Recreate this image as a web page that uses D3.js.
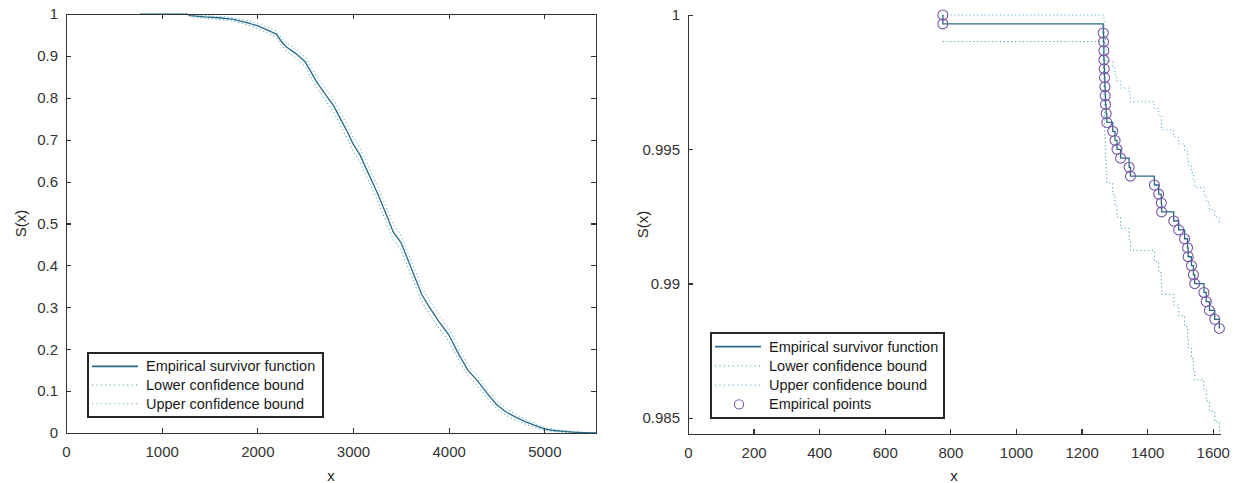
<!DOCTYPE html>
<html>
<head>
<meta charset="utf-8">
<script src="https://cdn.jsdelivr.net/npm/d3@7"></script>
<style>
  body { margin: 0; background: #fff; }
  svg { display: block; font-family: "Liberation Sans", Arial, sans-serif; }
  .axis-label { fill: #262626; font-size: 15px; }
  .legend-label { fill: #1a1a1a; font-size: 14.5px; }
</style>
</head>
<body>
<div id="chart"></div>
<script>
// full survivor curve (left panel)
const fullX = [777, 1266, 1300, 1450, 1600, 1750, 1900, 2000, 2100, 2200, 2250, 2300, 2400, 2500, 2550, 2620, 2700, 2800, 2880, 2950, 3000, 3070, 3150, 3250, 3350, 3420, 3500, 3580, 3650, 3720, 3800, 3900, 4000, 4100, 4200, 4300, 4400, 4500, 4600, 4700, 4800, 4900, 5000, 5100, 5200, 5300, 5400, 5540];
const fullS = [0.99967, 0.9997, 0.996, 0.993, 0.991, 0.987, 0.979, 0.972, 0.962, 0.952, 0.935, 0.922, 0.906, 0.886, 0.866, 0.838, 0.812, 0.78, 0.745, 0.715, 0.69, 0.665, 0.625, 0.575, 0.52, 0.48, 0.455, 0.41, 0.37, 0.33, 0.3, 0.265, 0.235, 0.19, 0.15, 0.125, 0.095, 0.068, 0.05, 0.038, 0.027, 0.018, 0.01, 0.006, 0.004, 0.002, 0.001, 0];
const fullLower = [0.99901, 0.9991, 0.9937, 0.99, 0.9876, 0.9829, 0.9739, 0.9661, 0.9552, 0.9443, 0.9262, 0.9124, 0.8956, 0.8746, 0.8538, 0.8248, 0.798, 0.7652, 0.7294, 0.6988, 0.6734, 0.6481, 0.6077, 0.5573, 0.5021, 0.4621, 0.4372, 0.3924, 0.3527, 0.3132, 0.2836, 0.2492, 0.2198, 0.176, 0.1372, 0.1132, 0.0845, 0.059, 0.0422, 0.0312, 0.0212, 0.0132, 0.0064, 0.0032, 0.0017, 0.0004, 0, 0];
const fullUpper = [1, 1, 0.9983, 0.996, 0.9944, 0.9911, 0.9841, 0.9779, 0.9688, 0.9597, 0.9438, 0.9316, 0.9164, 0.8974, 0.8782, 0.8512, 0.826, 0.7948, 0.7606, 0.7312, 0.7066, 0.6819, 0.6423, 0.5927, 0.5379, 0.4979, 0.4728, 0.4276, 0.3873, 0.3468, 0.3164, 0.2808, 0.2502, 0.204, 0.1628, 0.1368, 0.1055, 0.077, 0.0578, 0.0448, 0.0328, 0.0228, 0.0136, 0.0088, 0.0063, 0.0036, 0.0021, 0];

// first 35 events (right panel), first entry is the starting point at S = 1
const zoomX = [777, 777, 1266, 1267, 1268, 1268, 1269, 1270, 1271, 1272, 1273, 1275, 1277, 1295, 1302, 1308, 1319, 1345, 1349, 1422, 1435, 1443, 1444, 1481, 1496, 1514, 1523, 1525, 1535, 1541, 1545, 1573, 1580, 1590, 1606, 1620];
const zoomS = [1, 0.99967, 0.99933, 0.999, 0.99867, 0.99833, 0.998, 0.99767, 0.99733, 0.997, 0.99667, 0.99633, 0.996, 0.99567, 0.99533, 0.995, 0.99467, 0.99433, 0.994, 0.99367, 0.99333, 0.993, 0.99267, 0.99233, 0.992, 0.99167, 0.99133, 0.991, 0.99067, 0.99033, 0.99, 0.98967, 0.98933, 0.989, 0.98867, 0.98833];
const zoomLower = [null, 0.99901, 0.99841, 0.99787, 0.99736, 0.99687, 0.9964, 0.99594, 0.99548, 0.99504, 0.9946, 0.99416, 0.99374, 0.99332, 0.99289, 0.99247, 0.99206, 0.99164, 0.99123, 0.99082, 0.99041, 0.99001, 0.9896, 0.9892, 0.9888, 0.9884, 0.988, 0.9876, 0.98721, 0.98681, 0.98642, 0.98603, 0.98563, 0.98525, 0.98486, 0.98447];
const zoomUpper = [null, 1, 1, 1, 0.99997, 0.99979, 0.9996, 0.9994, 0.99918, 0.99896, 0.99874, 0.9985, 0.99826, 0.99803, 0.99778, 0.99753, 0.99728, 0.99703, 0.99677, 0.99652, 0.99625, 0.99599, 0.99573, 0.99546, 0.9952, 0.99494, 0.99466, 0.9944, 0.99413, 0.99385, 0.99358, 0.99331, 0.99303, 0.99275, 0.99248, 0.9922];

const fullXTicks = [0, 1000, 2000, 3000, 4000, 5000];
const fullYTicks = [0, 0.1, 0.2, 0.3, 0.4, 0.5, 0.6, 0.7, 0.8, 0.9, 1];
const zoomXTicks = [0, 200, 400, 600, 800, 1000, 1200, 1400, 1600];
const zoomYTicks = [0.985, 0.99, 0.995, 1];

const legendLabels = ["Empirical survivor function", "Lower confidence bound", "Upper confidence bound", "Empirical points"];

const colors = {
    axis: "#333333",
    main: "#286a88",
    lower: "#3e9fb2",
    upper: "#58afd2",
    points: "#7756a6",
};

class SurvivorPlot {
    constructor(_config, _data) {
        this.config = {
            svg: _config.svg,
            left: _config.left,
            right: _config.right,
            top: _config.top,
            bottom: _config.bottom,
            xDomain: _config.xDomain,
            yDomain: _config.yDomain,
            xTicks: _config.xTicks,
            yTicks: _config.yTicks,
            box: _config.box || false,
            stairs: _config.stairs || false,
            showPoints: _config.showPoints || false,
            legend: _config.legend,
        };
        this.data = _data;
        this.initVis();
    }

    initVis() {
        let vis = this;
        const c = vis.config;

        vis.x = d3.scaleLinear().domain(c.xDomain).range([c.left, c.right]);
        vis.y = d3.scaleLinear().domain(c.yDomain).range([c.bottom, c.top]);

        vis.g = c.svg.append("g");

        const fmt = d3.format("~g");
        const styleAxis = (sel) => {
            sel.attr("font-family", null).attr("font-size", null);
            sel.selectAll("path, line").attr("stroke", colors.axis).attr("stroke-width", 1.2)
                .attr("shape-rendering", "crispEdges");
            sel.selectAll("text").attr("fill", "#333").style("font-size", "15px");
        };

        // data first, axes on top
        vis.plot = vis.g.append("g");
        vis.renderVis();

        vis.g.append("g")
            .attr("transform", `translate(0,${c.bottom})`)
            .call(d3.axisBottom(vis.x).tickValues(c.xTicks).tickFormat(fmt)
                .tickSizeInner(-5).tickSizeOuter(0).tickPadding(13))
            .call(styleAxis);

        vis.g.append("g")
            .attr("transform", `translate(${c.left},0)`)
            .call(d3.axisLeft(vis.y).tickValues(c.yTicks).tickFormat(fmt)
                .tickSizeInner(-5).tickSizeOuter(0).tickPadding(8))
            .call(styleAxis);

        if (c.box) {
            vis.g.append("g")
                .attr("transform", `translate(0,${c.top})`)
                .call(d3.axisTop(vis.x).tickValues(c.xTicks).tickFormat("")
                    .tickSizeInner(-5).tickSizeOuter(0))
                .call(styleAxis);
            vis.g.append("g")
                .attr("transform", `translate(${c.right},0)`)
                .call(d3.axisRight(vis.y).tickValues(c.yTicks).tickFormat("")
                    .tickSizeInner(-5).tickSizeOuter(0))
                .call(styleAxis);
        }

        vis.g.append("text")
            .attr("class", "axis-label")
            .attr("x", (c.left + c.right) / 2)
            .attr("y", 481)
            .attr("text-anchor", "middle")
            .text("x");

        vis.g.append("text")
            .attr("class", "axis-label")
            .attr("transform", `translate(${c.left - 40},${(c.top + c.bottom) / 2}) rotate(-90)`)
            .attr("text-anchor", "middle")
            .text("S(x)");

        vis.renderLegend();
    }

    renderVis() {
        let vis = this;
        const d = vis.data;
        const rows = d.x.map((xv, i) => ({ x: xv, s: d.s[i], lo: d.lower[i], up: d.upper[i] }));

        const curve = vis.config.stairs ? d3.curveStepAfter : d3.curveLinear;
        const mainLine = d3.line().x((r) => vis.x(r.x)).y((r) => vis.y(r.s)).curve(curve);
        const loLine = d3.line().defined((r) => r.lo != null)
            .x((r) => vis.x(r.x)).y((r) => vis.y(Math.max(r.lo, vis.y.domain()[0]))).curve(curve);
        const upLine = d3.line().defined((r) => r.up != null)
            .x((r) => vis.x(r.x)).y((r) => vis.y(r.up)).curve(curve);

        vis.plot.append("path").datum(rows)
            .attr("fill", "none").attr("stroke", colors.lower)
            .attr("stroke-width", 1).attr("stroke-dasharray", "1.2,2.6")
            .attr("d", loLine);

        vis.plot.append("path").datum(rows)
            .attr("fill", "none").attr("stroke", colors.upper)
            .attr("stroke-width", 1).attr("stroke-dasharray", "1.2,2.6")
            .attr("d", upLine);

        vis.plot.append("path").datum(rows)
            .attr("fill", "none").attr("stroke", colors.main)
            .attr("stroke-width", 1.3)
            .attr("d", mainLine);

        if (vis.config.showPoints) {
            vis.plot.selectAll(".emp-point").data(rows).join("circle")
                .attr("class", "emp-point")
                .attr("cx", (r) => vis.x(r.x))
                .attr("cy", (r) => vis.y(r.s))
                .attr("r", 5)
                .attr("fill", "none")
                .attr("stroke", colors.points)
                .attr("stroke-width", 1.1);
        }
    }

    renderLegend() {
        let vis = this;
        const lg = vis.config.legend;
        const items = legendLabels.slice(0, lg.count);

        const legend = vis.g.append("g").attr("transform", `translate(${lg.x},${lg.y})`);
        legend.append("rect")
            .attr("width", lg.width)
            .attr("height", lg.height)
            .attr("fill", "#fff")
            .attr("stroke", "#262626")
            .attr("stroke-width", 1.2)
            .attr("shape-rendering", "crispEdges");

        const rowH = (lg.height - 8) / items.length;
        const item = legend.selectAll(".legend-item").data(items).join("g")
            .attr("class", "legend-item")
            .attr("transform", (d, i) => `translate(0,${4 + rowH * (i + 0.5)})`);

        item.filter((d, i) => i < 3).append("line")
            .attr("x1", 4).attr("x2", 50).attr("y1", 0).attr("y2", 0)
            .attr("stroke", (d, i) => [colors.main, colors.lower, colors.upper][i])
            .attr("stroke-width", (d, i) => i === 0 ? 1.8 : 1)
            .attr("stroke-dasharray", (d, i) => i === 0 ? null : "1.2,3.2");

        item.filter((d, i) => i === 3).append("circle")
            .attr("cx", 28).attr("cy", 0).attr("r", 4.6)
            .attr("fill", "none").attr("stroke", colors.points).attr("stroke-width", 1.1);

        item.append("text")
            .attr("class", "legend-label")
            .attr("x", 58)
            .attr("dy", "0.35em")
            .text((d) => d);
    }
}

const svg = d3.select("#chart").append("svg")
    .attr("width", 1238)
    .attr("height", 483);

new SurvivorPlot({
    svg: svg, left: 66, right: 596, top: 14, bottom: 433,
    xDomain: [0, 5540], yDomain: [0, 1],
    xTicks: fullXTicks, yTicks: fullYTicks,
    box: true,
    legend: { x: 88, y: 353, width: 235, height: 64, count: 3 },
}, { x: fullX, s: fullS, lower: fullLower, upper: fullUpper });

new SurvivorPlot({
    svg: svg, left: 688, right: 1220, top: 15, bottom: 434,
    xDomain: [0, 1622], yDomain: [0.9844, 1],
    xTicks: zoomXTicks, yTicks: zoomYTicks,
    stairs: true, showPoints: true,
    legend: { x: 711, y: 333, width: 233, height: 85, count: 4 },
}, { x: zoomX, s: zoomS, lower: zoomLower, upper: zoomUpper });
</script>
</body>
</html>
